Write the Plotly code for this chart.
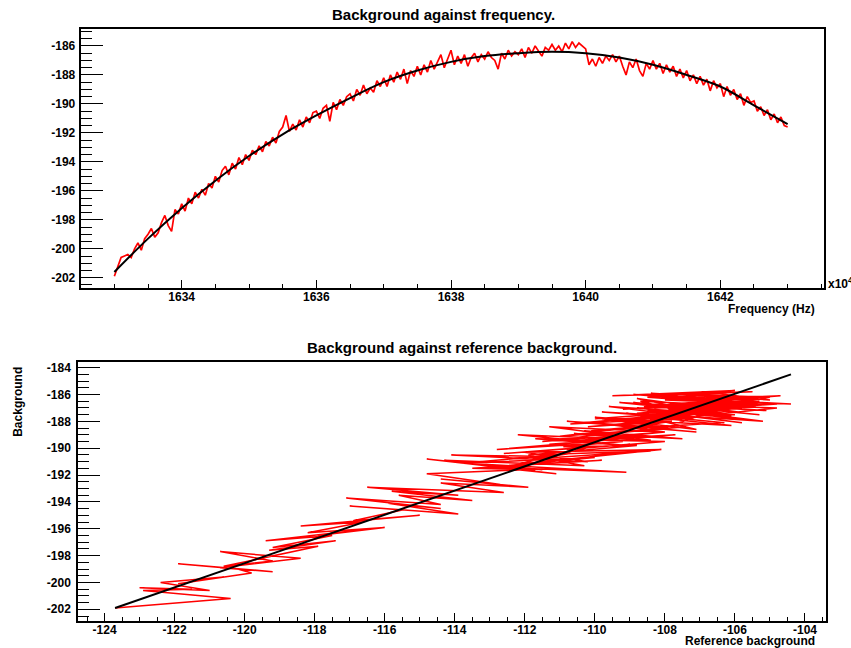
import numpy as np
import plotly.graph_objects as go

# ---------------- data ----------------
background = [
    -201.9, -201.2, -200.6, -200.5, -200.4, -200.6, -200.0, -199.6, -200.1, -199.3,
    -199.0, -198.6, -199.2, -198.9, -198.2, -197.7, -198.4, -198.8, -197.3, -197.6,
    -196.9, -197.4, -196.5, -196.9, -196.1, -196.5, -195.9, -196.3, -195.5, -195.8,
    -195.0, -195.4, -194.6, -194.3, -194.9, -194.1, -194.5, -193.7, -194.2, -193.5,
    -193.9, -193.2, -193.5, -192.9, -193.3, -192.6, -192.9, -192.3, -192.7, -191.9,
    -191.6, -190.8, -191.9, -191.4, -191.8, -191.1, -191.6, -190.9, -191.3, -190.6,
    -190.5, -191.0, -190.3, -190.1, -191.2, -189.9, -190.4, -189.7, -190.1, -189.5,
    -189.3, -189.8, -189.0, -189.4, -188.7, -189.3, -188.9, -189.2, -188.4, -188.8,
    -188.2, -188.8, -188.0, -188.5, -187.8, -188.3, -187.6, -188.6, -187.7, -188.1,
    -187.4, -188.0, -187.3, -187.8, -187.0, -187.6, -187.1, -186.6, -187.5, -186.9,
    -186.3, -187.3, -186.7, -187.2, -186.6, -187.4, -186.8, -186.5, -187.1, -186.6,
    -186.9, -186.4, -186.8, -187.0, -187.6, -186.5, -186.9, -186.3, -186.7, -186.4,
    -186.6, -186.2, -186.8, -186.1, -186.5, -186.0, -186.4, -186.7, -186.1, -186.3,
    -185.9, -186.3, -186.0, -186.4, -185.8, -186.2, -185.7, -186.1, -185.8, -186.0,
    -186.2, -187.3, -186.9, -187.4, -186.8, -187.2, -186.7, -187.0, -186.6, -187.1,
    -186.7, -187.4, -188.0, -187.1, -187.5, -186.9, -187.7, -188.1, -187.2, -187.6,
    -187.0, -187.6, -187.2, -187.9, -187.3, -187.8, -187.4, -188.1, -187.6, -188.2,
    -187.7, -188.4, -188.0, -188.6, -188.1, -188.7, -188.3, -189.1, -188.4, -188.9,
    -188.6, -189.5, -188.8, -189.4, -189.0, -189.7, -189.3, -190.1, -189.5, -189.9,
    -189.8, -190.5, -190.2, -190.8, -190.4, -191.1, -190.7, -191.3, -190.9, -191.5, -191.6,
]

ref_background = [
    -123.7, -120.4, -122.9, -121.5, -123.0, -121.0, -122.4, -120.6, -121.9, -119.8,
    -120.2, -121.9, -119.2, -120.7, -118.4, -120.7, -119.2, -120.6, -117.9, -119.3,
    -117.4, -119.2, -117.5, -119.4, -116.7, -117.9, -116.0, -118.2, -116.6, -118.4,
    -115.0, -116.9, -115.5, -117.0, -113.9, -115.9, -114.4, -117.1, -114.4, -115.6,
    -113.5, -115.8, -113.9, -116.5, -112.6, -114.4, -111.9, -114.4, -112.7, -114.8,
    -112.0, -114.8, -111.1, -113.0, -109.1, -113.8, -111.5, -114.3, -110.3, -111.8,
    -114.1, -110.2, -112.0, -108.1, -112.2, -110.1, -112.6, -109.0, -110.8, -108.0,
    -111.7, -109.1, -112.2, -108.4, -110.3, -107.5, -110.6, -108.9, -111.3, -108.0,
    -109.7, -107.1, -110.8, -107.9, -109.8, -106.1, -108.7, -107.1, -110.0, -107.6,
    -106.8, -109.5, -107.3, -110.0, -105.8, -108.2, -106.6, -108.9, -105.3, -107.7,
    -108.8, -105.9, -107.6, -105.1, -109.3, -106.3, -108.0, -105.3, -107.6, -105.7,
    -108.6, -106.2, -107.8, -104.8, -107.0, -108.7, -105.4, -107.4, -104.4, -108.0,
    -106.1, -108.5, -105.2, -107.5, -106.3, -108.9, -105.5, -107.8, -104.7, -107.2,
    -108.4, -105.7, -107.7, -105.0, -106.9, -108.5, -106.0, -109.5, -105.5, -107.4,
    -105.0, -107.6, -106.2, -108.8, -105.4, -107.3, -104.8, -108.3, -106.1, -109.2,
    -106.1, -108.7, -105.2, -107.9, -106.0, -109.6, -107.0, -105.8, -108.5, -106.7,
    -108.8, -106.1, -108.1, -105.6, -109.8, -107.2, -109.1, -106.3, -108.3, -110.7,
    -107.1, -110.2, -107.8, -109.4, -106.4, -110.1, -108.4, -111.0, -107.4, -109.6,
    -108.6, -111.5, -108.0, -110.4, -107.7, -111.3, -109.2, -112.8, -109.2, -110.9,
    -108.8, -111.9, -108.4, -111.8, -110.7, -113.7, -110.0, -112.5, -109.8, -113.5, -111.7,
]

# frequency grid (units of 1e4 Hz), first and last sample
freq_first, freq_last = 1633.0, 1643.0

# smooth fit curve of background against frequency
fit_freq = [1633.0, 1633.5, 1634.0, 1634.5, 1635.0, 1635.5, 1636.0, 1636.5, 1637.0, 1637.5,
            1638.0, 1638.5, 1639.0, 1639.5, 1640.0, 1640.5, 1641.0, 1641.5, 1642.0, 1642.5, 1643.0]
fit_bg = [-201.6, -199.3, -197.2, -195.3, -193.6, -192.1, -190.8, -189.6, -188.5, -187.7,
          -187.1, -186.7, -186.5, -186.4, -186.5, -186.8, -187.3, -188.0, -188.8, -190.1, -191.4]

# straight-line fit of background against reference background
fit_ref_x = [-123.7, -104.4]
fit_ref_y = [-201.9, -184.5]

# tick labels
top_xticks = [1634, 1636, 1638, 1640, 1642]
top_yticks = [-202, -200, -198, -196, -194, -192, -190, -188, -186]
bot_xticks = [-124, -122, -120, -118, -116, -114, -112, -110, -108, -106, -104]
bot_yticks = [-202, -200, -198, -196, -194, -192, -190, -188, -186, -184]

assert len(background) == len(ref_background)
freq = np.linspace(freq_first, freq_last, len(background))

# ---------------- figure ----------------
W, H = 851, 648
FONT = "Liberation Sans, Arial, Helvetica, sans-serif"


def fx(p):
    return p / W


def fy(p):
    return 1 - p / H


fig = go.Figure()
fig.add_trace(go.Scatter(x=freq, y=background, mode="lines",
                         line=dict(color="#ff0000", width=1.7),
                         xaxis="x", yaxis="y", showlegend=False, hoverinfo="skip"))
fig.add_trace(go.Scatter(x=fit_freq, y=fit_bg, mode="lines",
                         line=dict(color="black", width=2, shape="spline"),
                         xaxis="x", yaxis="y", showlegend=False, hoverinfo="skip"))
fig.add_trace(go.Scatter(x=ref_background, y=background, mode="lines",
                         line=dict(color="#ff0000", width=1.5),
                         xaxis="x2", yaxis="y2", showlegend=False, hoverinfo="skip"))
fig.add_trace(go.Scatter(x=fit_ref_x, y=fit_ref_y, mode="lines",
                         line=dict(color="black", width=2),
                         xaxis="x2", yaxis="y2", showlegend=False, hoverinfo="skip"))

tickfont = dict(family=FONT, size=12, color="black", weight="bold")


def xaxis_style(domain, rng, ticks, anchor, standoff):
    return dict(domain=domain, range=rng, anchor=anchor,
                tickmode="array", tickvals=ticks, ticktext=[str(t) for t in ticks],
                ticks="inside", ticklen=8, tickwidth=1, tickcolor="black",
                ticklabelstandoff=standoff,
                minor=dict(ticks="inside", ticklen=4, tickwidth=1, tickcolor="black",
                           tickmode="linear", tick0=ticks[0], dtick=0.5, showgrid=False),
                showline=True, linewidth=2, linecolor="black", mirror=True,
                showgrid=False, zeroline=False, tickfont=tickfont)


def yaxis_style(domain, rng, ticks, anchor, standoff):
    return dict(domain=domain, range=rng, anchor=anchor,
                tickmode="array", tickvals=ticks, ticktext=[str(t) for t in ticks],
                ticks="inside", ticklen=22, tickwidth=1, tickcolor="black",
                ticklabelstandoff=standoff,
                minor=dict(ticks="inside", ticklen=11, tickwidth=1, tickcolor="black",
                           tickmode="linear", tick0=ticks[0], dtick=0.5, showgrid=False),
                showline=True, linewidth=2, linecolor="black", mirror=True,
                showgrid=False, zeroline=False, tickfont=tickfont)


fig.update_layout(
    width=W, height=H,
    margin=dict(l=0, r=0, t=0, b=0),
    paper_bgcolor="white", plot_bgcolor="white",
    showlegend=False,
    xaxis=xaxis_style([fx(80.7), fx(824)], [1632.5, 1643.54], top_xticks, "y", -4),
    yaxis=yaxis_style([fy(288.3), fy(29.3)], [-202.73, -184.85], top_yticks, "x", 1),
    xaxis2=xaxis_style([fx(78.3), fx(826)], [-124.75, -103.4], bot_xticks, "y2", -3),
    yaxis2=yaxis_style([fy(620.7), fy(362.3)], [-202.85, -183.6], bot_yticks, "x2", 3),
)


def note(text, x, y, size=12, xanchor="center", yanchor="middle", angle=0):
    fig.add_annotation(text=text, x=fx(x), y=fy(y), xref="paper", yref="paper",
                       xanchor=xanchor, yanchor=yanchor, showarrow=False, textangle=angle,
                       font=dict(family=FONT, size=size, color="black", weight="bold"))


note("Background against frequency.", 443.7, 15, size=15)
note("Background against reference background.", 462, 347.5, size=15)
note("Frequency (Hz)", 816.7, 309, xanchor="right")
note("Reference background", 816.7, 641, xanchor="right")
note("Background", 17.3, 401.5, angle=-90)
note("x10<sup>4</sup>", 826, 283.3, xanchor="left")

fig.write_html(
    "out.html",
    config={"displayModeBar": False},
    post_script="document.body.style.margin='0px';document.body.style.overflow='hidden';",
)
